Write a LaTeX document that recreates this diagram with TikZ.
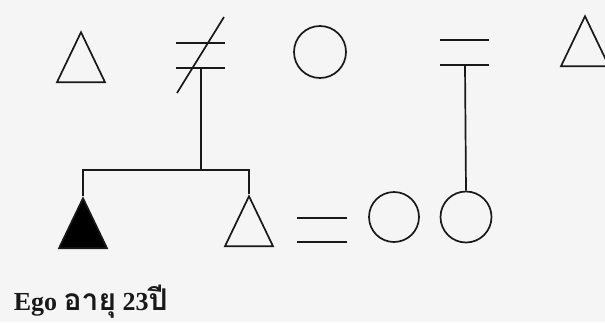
\documentclass[tikz,border=0pt]{standalone}
\usepackage{fontspec}
\setmainfont{Liberation Serif}
\newfontfamily\thaifont[Script=Thai]{Loma}
\usepackage{tikz}
\usetikzlibrary{shapes.geometric}

\tikzset{
  male/.style={draw,isosceles triangle,isosceles triangle stretches,shape border rotate=90,
    minimum width=48pt,minimum height=50pt,inner sep=0pt},
  female/.style={draw,circle,minimum size=#1,inner sep=0pt},
  female/.default=51pt
}

\begin{document}
\begin{tikzpicture}[x=1pt,y=1pt,line width=1.7pt,black!90]
    \useasboundingbox (0,0) rectangle (605,-322);
    \fill[black!4] (0,0) rectangle (605,-322);
    \clip (0,0) rectangle (605,-322);

    \node[male,anchor=apex] (f1) at (81,-30) {};
    \node[female=52pt] (m) at (320,-52) {};
    \node[male,anchor=apex] (f2) at (585,-14) {};

    \foreach \y in {-43,-68} \draw (176,\y) -- (225,\y);
    \draw (224,-17) -- (177,-93);
    \foreach \y in {-40,-65} \draw (440,\y) -- (489,\y);
    \coordinate (div) at (201,-68);
    \coordinate (mar) at (465,-65);
    \coordinate (sib) at (201,-170);

    \node[male,fill=black,anchor=apex] (ego) at (83,-196) {};
    \node[male,anchor=apex] (bro) at (249,-194) {};
    \foreach \y in {-218,-242} \draw (297,\y) -- (347,\y);
    \node[female=50pt] (wife) at (394,-217) {};
    \node[female] (sis) at (466,-217) {};

    \draw (div) -- (sib);
    \draw (ego.apex) |- (sib) -| (bro.apex);
    \draw (mar) -- (sis.north);

    \node[anchor=base west,inner sep=0pt,font=\fontsize{26}{28}\selectfont\bfseries] (lbl) at (13,-310)
      {Ego {\thaifont\fontsize{30}{30}\selectfont อายุ} 23{\thaifont\fontsize{30}{30}\selectfont ปี}};
  \end{tikzpicture}
\end{document}
